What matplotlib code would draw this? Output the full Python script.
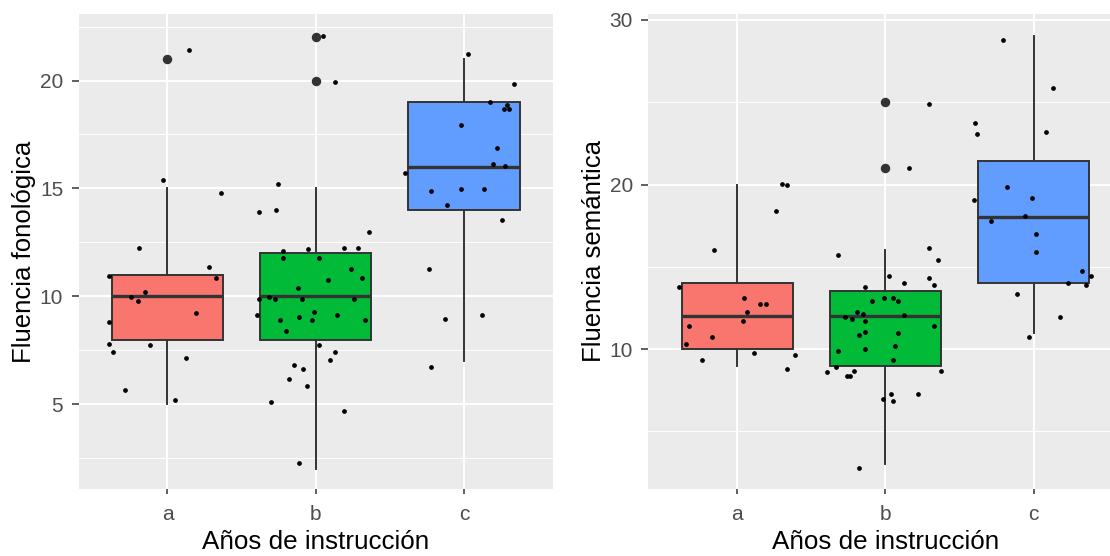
import matplotlib
matplotlib.use("Agg")
import matplotlib.pyplot as plt
from matplotlib.ticker import MultipleLocator

categories = ["a", "b", "c"]
fill_colours = ["#F8766D", "#00BA38", "#619CFF"]

# Fluencia fonologica: box statistics per group
fono_whislo = [5, 2, 7]
fono_q1 = [8, 8, 14]
fono_med = [10, 10, 16]
fono_q3 = [11, 12, 19]
fono_whishi = [15, 15, 21]
fono_outliers = [[21], [20, 22], []]

# Fluencia semantica: box statistics per group
sem_whislo = [9, 3, 11]
sem_q1 = [10, 9, 14]
sem_med = [12, 12, 18]
sem_q3 = [14, 13.5, 21.4]
sem_whishi = [20, 16, 29]
sem_outliers = [[], [21, 25], []]

# jittered raw points (offset from group centre, value)
fono_a_dx = [0.146, -0.032, 0.361, -0.189, 0.279, 0.328, -0.391, -0.153, -0.247, -0.200,
             0.195, -0.391, -0.395, -0.367, -0.117, 0.123, -0.286, 0.051]
fono_a_y = [21.39, 15.39, 14.80, 12.25, 11.34, 10.87, 10.94, 10.19, 9.95, 9.79,
            9.21, 8.80, 7.81, 7.41, 7.73, 7.15, 5.68, 5.19]
fono_b_dx = [0.047, 0.130, -0.252, -0.384, -0.265, 0.359, -0.218, -0.049, 0.191, 0.285,
             -0.218, 0.022, 0.238, 0.312, 0.083, -0.121, -0.312, -0.384, -0.276, -0.096,
             0.258, -0.399, -0.110, -0.013, 0.142, -0.241, -0.025, 0.335, -0.204, 0.022,
             0.130, 0.094, -0.146, -0.086, -0.182, -0.061, -0.301, 0.191, -0.110]
fono_b_y = [22.07, 19.93, 15.22, 13.91, 13.98, 12.99, 12.10, 12.18, 12.25, 12.25,
            11.76, 11.76, 11.27, 10.87, 10.77, 10.37, 9.95, 9.88, 9.88, 9.88,
            9.88, 9.14, 9.05, 9.29, 9.14, 8.89, 8.89, 8.89, 8.38, 7.73,
            7.41, 7.07, 6.82, 6.65, 6.16, 5.83, 5.09, 4.68, 2.30]
fono_c_dx = [0.030, 0.340, 0.173, 0.293, 0.268, 0.306, -0.020, 0.221, 0.196, 0.279,
             -0.398, -0.225, -0.020, 0.138, -0.115, 0.256, -0.236, -0.128, 0.124, -0.225]
fono_c_y = [21.22, 19.83, 19.01, 18.86, 18.69, 18.69, 17.94, 16.87, 16.13, 16.05,
            15.71, 14.89, 14.97, 14.97, 14.23, 13.56, 11.27, 8.97, 9.14, 6.75]

sem_a_dx = [-0.155, 0.301, 0.337, 0.265, -0.394, 0.049, 0.157, 0.193, 0.063, 0.038,
            -0.322, -0.167, -0.347, 0.110, 0.387, -0.239, 0.337]
sem_a_y = [16.05, 20.04, 19.96, 18.42, 13.78, 13.13, 12.71, 12.71, 12.26, 11.73,
           11.41, 10.76, 10.32, 9.79, 9.67, 9.34, 8.80]
sem_b_dx = [0.292, 0.160, 0.292, 0.353, -0.320, 0.027, 0.292, 0.123, 0.328, -0.140,
            -0.009, 0.052, -0.092, 0.088, -0.189, -0.153, 0.123, -0.273, -0.225, -0.140,
            0.328, -0.140, 0.088, -0.175, 0.063, -0.320, -0.140, 0.052, -0.333, -0.394,
            -0.212, -0.261, -0.236, 0.375, 0.040, -0.018, 0.052, 0.220, -0.178]
sem_b_y = [24.91, 21.02, 16.15, 15.40, 15.73, 14.43, 14.33, 14.00, 13.88, 13.78,
           13.13, 13.13, 12.91, 12.91, 12.26, 12.16, 12.06, 11.94, 11.84, 11.73,
           11.41, 11.06, 10.96, 10.86, 10.21, 9.89, 9.99, 9.34, 8.92, 8.60,
           8.69, 8.37, 8.37, 8.69, 7.29, 6.97, 6.85, 7.29, 2.76]
sem_c_dx = [-0.204, 0.131, 0.084, -0.397, -0.384, -0.399, -0.181, -0.013, -0.060, -0.289,
            0.018, 0.018, 0.330, 0.389, 0.234, 0.353, -0.113, 0.175, -0.031]
sem_c_y = [28.80, 25.88, 23.19, 23.71, 23.08, 19.07, 19.84, 19.19, 18.10, 17.77,
           17.02, 15.93, 14.75, 14.43, 14.00, 13.88, 13.34, 11.94, 10.74]

x_label = "Años de instrucción"

plt.rcParams["font.family"] = ["Liberation Sans", "DejaVu Sans"]
DARK = "#333333"


"""
Draws one ggplot-like boxplot panel with jittered points on top
"""
def draw_panel(ax, whislo, q1, med, q3, whishi, outliers, jitter, ylabel, ylim, major, minor):
    ax.set_facecolor("#EBEBEB")
    for s in ax.spines.values():
        s.set_visible(False)
    ax.set_axisbelow(True)
    ax.yaxis.set_major_locator(MultipleLocator(major))
    ax.yaxis.set_minor_locator(MultipleLocator(minor))
    ax.grid(True, which="major", color="white", linewidth=1.4)
    ax.grid(True, which="minor", axis="y", color="white", linewidth=0.7)

    stats = []
    for i in range(len(categories)):
        stats.append({"whislo": whislo[i], "q1": q1[i], "med": med[i], "q3": q3[i],
                      "whishi": whishi[i], "fliers": outliers[i]})
    positions = list(range(1, len(categories) + 1))
    bp = ax.bxp(stats, positions=positions, widths=0.75, patch_artist=True,
                showcaps=False, manage_ticks=False,
                boxprops={"edgecolor": DARK, "linewidth": 1.4},
                whiskerprops={"color": DARK, "linewidth": 1.4},
                medianprops={"color": DARK, "linewidth": 2.4, "solid_capstyle": "butt"},
                flierprops={"marker": "o", "markerfacecolor": DARK, "markeredgecolor": DARK,
                            "markersize": 5.8})
    for patch, col in zip(bp["boxes"], fill_colours):
        patch.set_facecolor(col)

    for pos, (dx, ys) in zip(positions, jitter):
        ax.plot([pos + d for d in dx], ys, "o", color="black", markersize=2.4,
                linestyle="none", zorder=5)

    ax.set_xlim(0.4, 3.6)
    ax.set_ylim(*ylim)
    ax.set_xticks(positions)
    ax.set_xticklabels(categories)
    ax.tick_params(axis="both", which="major", width=1.1, color=DARK,
                   labelcolor="#4D4D4D", labelsize=15)
    ax.tick_params(axis="x", which="major", length=3.8, pad=8)
    ax.tick_params(axis="y", which="major", length=5, pad=6)
    ax.tick_params(axis="y", which="minor", length=0)
    ax.set_xlabel(x_label, fontsize=18.7, labelpad=4)
    ax.set_ylabel(ylabel, fontsize=18.5, labelpad=2.5)


fig = plt.figure(figsize=(11.1, 5.56), dpi=100)
ax_left = fig.add_axes([78.5 / 1110, 67 / 556, 474.5 / 1110, 475 / 556])
ax_right = fig.add_axes([648.3 / 1110, 67 / 556, 474.2 / 1110, 475 / 556])

draw_panel(ax_left, fono_whislo, fono_q1, fono_med, fono_q3, fono_whishi, fono_outliers,
           [(fono_a_dx, fono_a_y), (fono_b_dx, fono_b_y), (fono_c_dx, fono_c_y)],
           "Fluencia fonológica", (1.08, 23.08), 5, 2.5)
draw_panel(ax_right, sem_whislo, sem_q1, sem_med, sem_q3, sem_whishi, sem_outliers,
           [(sem_a_dx, sem_a_y), (sem_b_dx, sem_b_y), (sem_c_dx, sem_c_y)],
           "Fluencia semántica", (1.5, 30.36), 10, 5)

fig.savefig("out.png", dpi=100)
